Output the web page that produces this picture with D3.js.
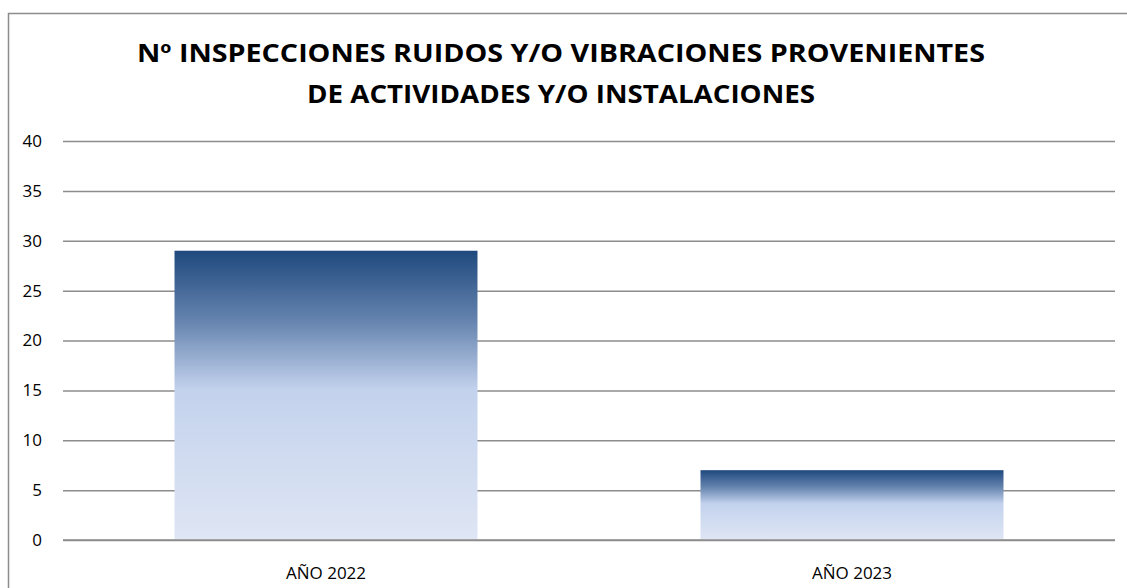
<!DOCTYPE html>
<html>
<head>
<meta charset="utf-8">
<script src="https://cdn.jsdelivr.net/npm/d3@7"></script>
<style>
  body { margin: 0; background: #fff; }
  svg { display: block; font-family: "Open Sans", sans-serif; }
</style>
</head>
<body>
<svg id="chart" width="1127" height="588"></svg>
<script>
const categories = ["AÑO 2022", "AÑO 2023"];
const values = [29, 7];
const yTicks = [0, 5, 10, 15, 20, 25, 30, 35, 40];
const titleLines = [
  "Nº INSPECCIONES RUIDOS Y/O VIBRACIONES PROVENIENTES",
  "DE ACTIVIDADES Y/O INSTALACIONES"
];
const titleWidths = [848, 508];

const plot = { left: 63, right: 1115, top: 141, bottom: 540 };

const svg = d3.select("#chart");

// outer chart border (right and bottom edges are cut by the picture)
svg.append("rect")
  .attr("x", 8.5).attr("y", 13.5)
  .attr("width", 1140).attr("height", 600)
  .attr("fill", "none").attr("stroke", "#8c8c8c").attr("stroke-width", 1.5);

const grad = svg.append("defs").append("linearGradient")
  .attr("id", "barGrad")
  .attr("x1", 0).attr("y1", 0).attr("x2", 0).attr("y2", 1);
grad.append("stop").attr("offset", "0%").attr("stop-color", "#1f497d");
grad.append("stop").attr("offset", "24%").attr("stop-color", "#6483ae");
grad.append("stop").attr("offset", "48%").attr("stop-color", "#c3d2ed");
grad.append("stop").attr("offset", "100%").attr("stop-color", "#dfe6f4");

const y = d3.scaleLinear().domain([0, 40]).range([plot.bottom, plot.top]);
const x = d3.scaleBand()
  .domain(categories)
  .range([plot.left, plot.right])
  .paddingInner(0.424)
  .paddingOuter(0.212);

// gridlines + y labels
const yAxis = d3.axisLeft(y)
  .tickValues(yTicks)
  .tickSize(-(plot.right - plot.left))
  .tickPadding(21);
const gy = svg.append("g")
  .attr("transform", `translate(${plot.left},0)`)
  .call(yAxis);
gy.select(".domain").remove();
gy.selectAll(".tick line").attr("stroke", "#8c8c8c").attr("stroke-width", 1.5);
gy.selectAll(".tick text")
  .attr("fill", "#000")
  .style("font-size", "17px")
  .style("font-family", "'Open Sans', sans-serif");

// bars
svg.selectAll("rect.bar")
  .data(values)
  .enter().append("rect")
  .attr("class", "bar")
  .attr("x", (d, i) => x(categories[i]))
  .attr("width", x.bandwidth())
  .attr("y", d => y(d))
  .attr("height", d => y(0) - y(d))
  .attr("fill", "url(#barGrad)");

// baseline redrawn over bars
svg.append("line")
  .attr("x1", plot.left).attr("x2", plot.right)
  .attr("y1", y(0)).attr("y2", y(0))
  .attr("stroke", "#8c8c8c").attr("stroke-width", 1.5);

// x labels
const xAxis = d3.axisBottom(x).tickSize(0).tickPadding(27);
const gx = svg.append("g")
  .attr("transform", `translate(0,${plot.bottom})`)
  .call(xAxis);
gx.select(".domain").remove();
gx.selectAll(".tick text")
  .attr("fill", "#000")
  .style("font-size", "17px")
  .style("font-family", "'Open Sans', sans-serif");

// title
svg.append("g").selectAll("text")
  .data(titleLines)
  .enter().append("text")
  .attr("x", 561)
  .attr("y", (d, i) => 62 + i * 41)
  .attr("text-anchor", "middle")
  .attr("textLength", (d, i) => titleWidths[i])
  .attr("lengthAdjust", "spacingAndGlyphs")
  .style("font-weight", "bold")
  .style("font-size", "25px")
  .attr("fill", "#000")
  .text(d => d);
</script>
</body>
</html>
